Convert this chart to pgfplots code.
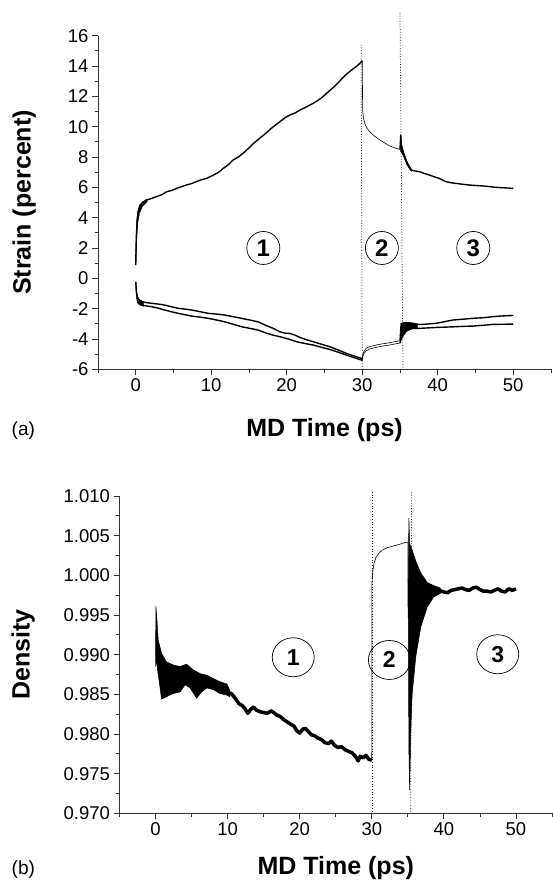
\documentclass[border=0pt]{standalone}
\usepackage{fontspec}
\setmainfont{Liberation Sans}
\usepackage{pgfplots}
\pgfplotsset{compat=1.18}
\usetikzlibrary{shapes.geometric}
\begin{document}
\begin{tikzpicture}[x=1pt,y=1pt]
\path[use as bounding box] (0,0) rectangle (552,880);
\pgfplotsset{
  common/.style={
    scale only axis,
    axis x line*=bottom, axis y line*=left,
    axis line style={black!80, line width=0.8pt},
    every tick/.style={black!80, line width=0.8pt},
    tick align=outside,
    major tick length=6pt, minor tick length=3.5pt,
    xmin=-5, xmax=55,
    xtick={0,10,20,30,40,50},
    minor xtick={-5,5,15,25,35,45,55},
    ticklabel style={font=\fontsize{18.5}{18.5}\selectfont},
    /pgf/number format/assume math mode=true,
    label style={font=\fontsize{25}{25}\selectfont\bfseries},
    clip=false,
  },
}
\tikzset{
  circ/.style={draw, circle, line width=0.7pt, minimum size=33pt, inner sep=0pt, font=\fontsize{24}{24}\selectfont\bfseries},
  ell/.style={draw, ellipse, line width=0.7pt, minimum width=42pt, minimum height=39pt, inner sep=0pt, font=\fontsize{23}{23}\selectfont\bfseries},
  dotl/.style={black!90, line width=0.75pt, dash pattern=on 0.9pt off 1.8pt},
}
% ---------------- (a) ----------------
\begin{axis}[common, at={(98pt,510.7pt)}, anchor=south west, width=453pt, height=333.6pt,
  ymin=-6, ymax=16, ytick={-6,-4,-2,0,2,4,6,8,10,12,14,16}, minor ytick={-5,-3,-1,1,3,5,7,9,11,13,15},
  xlabel={MD Time (ps)}, ylabel={Strain (percent)},
  xlabel style={at={(axis description cs:0.5,-0.182)}, anchor=center},
  ylabel style={at={(axis description cs:-0.163,0.5)}, anchor=center},
]
\draw[dotl] (axis cs:29.85,15.4) -- (axis cs:30.0,-6);
\draw[dotl] (axis cs:35.0,17.5) -- (axis cs:35.4,-6);
% upper curve
\addplot[black, line width=1.4pt, line join=round] coordinates {
(0,0.87) (0.05,2.2) (0.1,2.97) (0.2,3.9) (0.3,4.28) (0.5,4.6) (0.75,4.83) (1.4,5.16) (2.0,5.25) (2.7,5.38) (3.4,5.5) (4.1,5.71) (4.8,5.8) (5.4,5.93) (6.1,6.05) (6.7,6.15) (7.4,6.25) (8.0,6.37) (8.7,6.5) (9.4,6.59) (10.3,6.81) (11.0,7.0) (11.6,7.25) (12.3,7.5) (12.9,7.8) (13.6,8.0) (14.2,8.24) (14.9,8.55) (15.6,8.9) (16.4,9.23) (17.2,9.55) (18.1,9.95) (19.1,10.33) (19.8,10.6) (20.4,10.77) (21.1,10.9) (21.75,11.1) (22.6,11.3) (23.5,11.54) (24.1,11.72) (24.8,11.98) (25.5,12.3) (26.2,12.6) (26.9,12.95) (27.5,13.26) (28.0,13.5) (28.6,13.74) (29.3,14.0) (29.9,14.28) (30.0,14.35)
};
\addplot[black, fill=black, line width=0.4pt] coordinates {
(0,0.87) (0.04,2.5) (0.12,3.7) (0.25,4.4) (0.5,4.85) (0.9,5.05) (1.5,5.22) (1.5,5.05) (0.9,4.75) (0.5,4.3) (0.25,3.6) (0.12,2.5) (0.04,1.3)
};
\addplot[black, line width=0.6pt, line join=round] coordinates {
(30.0,14.35) (30.03,12.5) (30.05,11.1) (30.15,10.6) (30.35,10.2) (30.6,9.9) (31.0,9.67) (31.6,9.38) (32.35,9.12) (33.0,8.92) (33.6,8.74) (34.3,8.6) (35.0,8.5)
};
\addplot[black, line width=1.4pt, line join=round] coordinates {
(35.0,8.5) (35.1,9.45) (35.15,8.7) (35.4,8.35) (35.8,7.8) (36.2,7.35) (36.5,7.14) (37.0,7.08) (37.6,7.03) (38.2,6.92) (38.9,6.81) (39.5,6.7) (40.2,6.59) (41.1,6.37) (41.8,6.3) (42.4,6.26) (43.3,6.2) (44.2,6.15) (45.1,6.12) (46.0,6.09) (46.8,6.05) (47.7,6.0) (48.8,5.97) (50.0,5.93)
};
\addplot[black, fill=black, line width=0.4pt] coordinates {
(35.05,8.5) (35.1,9.45) (35.2,8.9) (35.5,8.3) (35.9,7.7) (36.5,7.2) (36.5,7.05) (35.9,7.5) (35.5,8.0) (35.2,8.3) (35.05,8.4)
};
% lower curves
\addplot[black, line width=1.4pt, line join=round] coordinates {
(0,-0.23) (0.1,-0.9) (0.3,-1.43) (0.75,-1.54) (1.4,-1.6) (2.1,-1.65) (3.0,-1.7) (3.8,-1.76) (4.7,-1.87) (5.6,-1.98) (6.5,-2.03) (7.4,-2.09) (8.5,-2.2) (9.6,-2.31) (10.7,-2.36) (11.8,-2.42) (12.9,-2.53) (14.0,-2.64) (15.1,-2.75) (16.2,-2.87) (17.2,-3.1) (18.2,-3.3) (19.1,-3.53) (19.8,-3.62) (20.4,-3.63) (21.1,-3.75) (21.75,-3.9) (22.6,-4.05) (23.5,-4.18) (24.6,-4.35) (25.7,-4.51) (26.8,-4.72) (27.9,-4.95) (28.9,-5.12) (29.9,-5.28) (30.0,-5.3)
};
\addplot[black, line width=1.4pt, line join=round] coordinates {
(0.3,-1.5) (0.75,-1.76) (1.4,-1.82) (2.1,-1.87) (3.0,-1.97) (3.8,-2.09) (4.7,-2.2) (5.6,-2.31) (6.5,-2.4) (7.4,-2.49) (8.5,-2.56) (9.6,-2.64) (10.7,-2.75) (11.8,-2.87) (12.9,-3.03) (14.0,-3.19) (15.1,-3.3) (16.2,-3.41) (17.2,-3.6) (18.2,-3.75) (19.1,-3.85) (20.2,-4.0) (21.3,-4.18) (22.4,-4.3) (23.5,-4.4) (24.6,-4.55) (25.7,-4.69) (26.8,-4.87) (27.9,-5.06) (28.9,-5.23) (29.9,-5.39) (30.0,-5.42)
};
\addplot[black, fill=black, line width=0.4pt] coordinates {
(0,-0.2) (0.08,-0.8) (0.2,-1.2) (0.5,-1.4) (1.0,-1.55) (1.0,-1.85) (0.5,-1.75) (0.2,-1.6) (0.08,-1.2) (0,-0.6)
};
\addplot[black, line width=0.6pt] coordinates {
(30.0,-5.3) (30.05,-5.05) (30.2,-4.85) (30.5,-4.62) (31.0,-4.5) (31.85,-4.4) (32.7,-4.32) (33.6,-4.25) (34.3,-4.18) (35.0,-4.12)
};
\addplot[black, line width=0.6pt] coordinates {
(30.0,-5.42) (30.05,-5.2) (30.2,-5.0) (30.5,-4.78) (31.0,-4.66) (31.85,-4.55) (32.7,-4.47) (33.6,-4.4) (34.3,-4.33) (35.0,-4.27)
};
\addplot[black, line width=1.4pt, line join=round] coordinates {
(35.0,-4.12) (35.15,-3.0) (35.6,-2.95) (36.5,-2.95) (37.6,-3.05) (38.5,-3.02) (39.8,-2.97) (41.0,-2.85) (42.0,-2.75) (43.3,-2.7) (44.6,-2.64) (46.0,-2.6) (47.3,-2.53) (48.6,-2.48) (50.0,-2.45)
};
\addplot[black, line width=1.4pt, line join=round] coordinates {
(35.0,-4.27) (35.2,-3.9) (35.6,-3.5) (36.0,-3.35) (36.7,-3.3) (37.6,-3.3) (38.7,-3.27) (39.8,-3.24) (41.0,-3.22) (42.0,-3.2) (43.3,-3.17) (44.6,-3.15) (46.0,-3.1) (47.3,-3.04) (48.6,-3.03) (50.0,-3.02)
};
\addplot[black, fill=black, line width=0.4pt] coordinates {
(35.1,-4.15) (35.15,-3.0) (35.5,-2.9) (36.2,-2.92) (37.0,-3.0) (37.3,-3.1) (37.3,-3.3) (36.5,-3.35) (35.9,-3.5) (35.5,-3.75) (35.25,-4.0)
};
\node[circ] at (axis cs:16.9,2.0) {1};
\node[circ] at (axis cs:32.6,2.0) {2};
\node[circ] at (axis cs:44.7,2.0) {3};
\end{axis}
% ---------------- (b) ----------------
\begin{axis}[common, at={(119.5pt,66.7pt)}, anchor=south west, width=432.5pt, height=317.3pt,
  ymin=0.970, ymax=1.010, ytick={0.970,0.975,0.980,0.985,0.990,0.995,1.000,1.005,1.010},
  minor ytick={0.9725,0.9775,0.9825,0.9875,0.9925,0.9975,1.0025,1.0075},
  yticklabel style={/pgf/number format/.cd, fixed, fixed zerofill, precision=3},
  xlabel={MD Time (ps)}, ylabel={Density},
  xlabel style={at={(axis description cs:0.5,-0.172)}, anchor=center},
  ylabel style={at={(axis description cs:-0.223,0.5)}, anchor=center},
]
\draw[dotl] (axis cs:30.06,1.0105) -- (axis cs:30.06,0.970);
\draw[dotl] (axis cs:35.53,1.0105) -- (axis cs:35.39,0.970);
\addplot[black, fill=black, line width=0.5pt] coordinates {
(0.0,0.9890) (0.05,0.9961) (0.2,0.9943) (0.37,0.9918) (0.83,0.9902) (1.5,0.9891) (2.45,0.9887) (3.4,0.9885) (4.3,0.9888) (5.2,0.9881) (6.2,0.9876) (7.1,0.9874) (8.0,0.9870) (8.9,0.9866) (9.9,0.9863) (10.3,0.9855)
(10.3,0.9847) (9.9,0.9849) (8.9,0.9851) (8.0,0.9856) (7.1,0.9858) (6.4,0.9853) (5.7,0.9845) (4.8,0.9858) (4.1,0.9862) (3.4,0.9853) (2.45,0.9851) (1.5,0.9847) (0.83,0.9844) (0.6,0.9860) (0.1,0.9893) (0.0,0.9885)
};
\addplot[black, line width=3.5pt, line join=round] coordinates {
(10.1,0.9852) (10.5,0.9851) (10.8,0.9848) (11.2,0.9843) (11.6,0.9838) (12.0,0.9836) (12.4,0.9832) (12.8,0.9826) (13.2,0.9831) (13.6,0.9834) (14.0,0.9830) (14.5,0.9828) (15.0,0.9827) (15.5,0.9826) (16.0,0.9829) (16.4,0.9827) (16.8,0.9824) (17.3,0.9822) (17.8,0.9818) (18.3,0.9815) (18.8,0.9812) (19.2,0.9810) (19.6,0.9804) (20.0,0.9801) (20.4,0.9806) (20.8,0.9807) (21.2,0.9803) (21.6,0.9799) (22.0,0.9798) (22.5,0.9795) (23.0,0.9793) (23.5,0.9789) (24.0,0.9788) (24.4,0.9791) (24.8,0.9786) (25.3,0.9783) (25.8,0.9784) (26.3,0.9780) (26.8,0.9778) (27.3,0.9776) (27.8,0.9771) (28.1,0.9766) (28.4,0.9772) (28.8,0.9770) (29.2,0.9773) (29.6,0.9768) (30.0,0.9767)
};
\addplot[black, line width=0.6pt, line join=round] coordinates {
(30.0,0.9767) (30.02,0.9990) (30.1,1.0002) (30.3,1.0015) (30.6,1.0023) (31.0,1.0028) (31.5,1.0032) (32.2,1.0035) (33.0,1.0037) (33.8,1.0039) (34.5,1.0041) (35.0,1.0042) (35.02,0.9960)
};
\addplot[black, fill=black, line width=0.5pt] coordinates {
(35.05,0.9990) (35.15,1.0072) (35.25,1.0040) (35.6,1.0032) (36.1,1.0018) (36.8,1.0003) (37.7,0.9991) (38.6,0.9987) (39.5,0.9984)
(39.5,0.9977) (38.6,0.9973) (37.7,0.9960) (36.8,0.9935) (36.1,0.9897) (35.6,0.9850) (35.4,0.9800) (35.25,0.9729) (35.15,0.9780) (35.05,0.9960)
};
\addplot[black, line width=3.5pt, line join=round] coordinates {
(39.3,0.9981) (40.0,0.9979) (40.5,0.9978) (41.0,0.9981) (41.5,0.9982) (42.0,0.9983) (42.5,0.9984) (43.0,0.9982) (43.5,0.9981) (44.0,0.9984) (44.5,0.9985) (45.0,0.9982) (45.5,0.9980) (46.0,0.9980) (46.5,0.9979) (47.0,0.9981) (47.5,0.9983) (48.0,0.9980) (48.5,0.9979) (49.0,0.9983) (49.5,0.9981) (50.0,0.9983)
};
\node[ell] at (axis cs:19.1,0.98967) {1};
\node[ell] at (axis cs:32.44,0.98933) {2};
\node[ell] at (axis cs:47.47,0.99005) {3};
\end{axis}
\node[font=\fontsize{19}{19}\selectfont] at (23.3,449.5) {(a)};
\node[font=\fontsize{19}{19}\selectfont] at (23.3,10.5) {(b)};
\end{tikzpicture}
\end{document}
